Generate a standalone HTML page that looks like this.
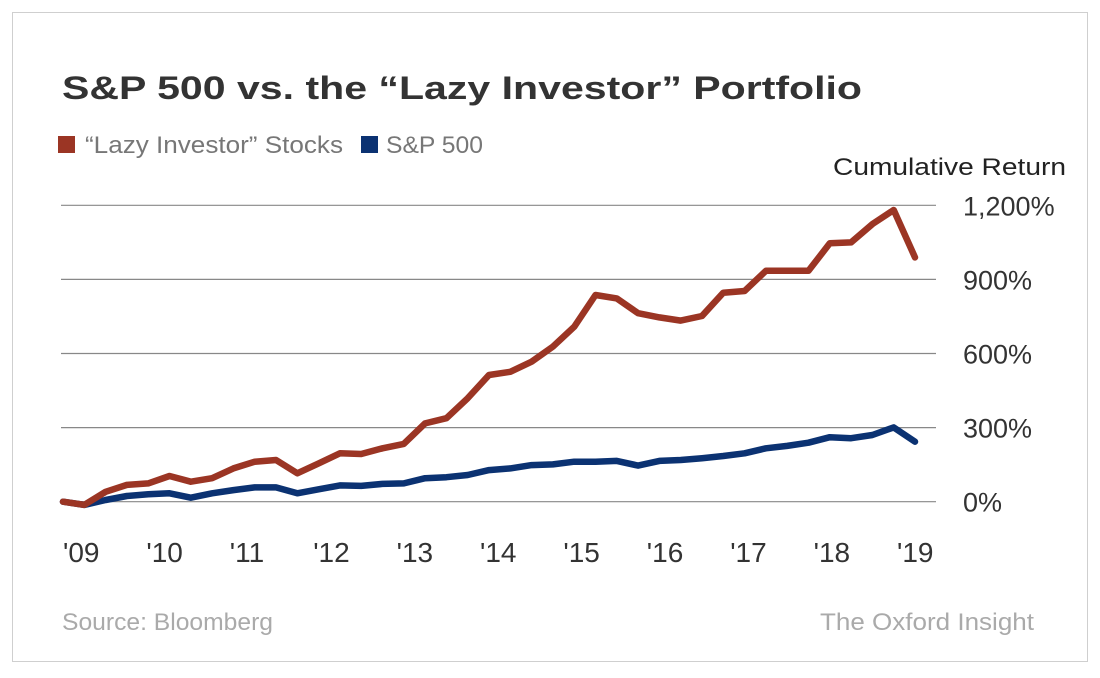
<!DOCTYPE html>
<html><head><meta charset="utf-8"><style>
html,body{margin:0;padding:0;background:#fff;}
svg{display:block;font-family:"Liberation Sans",Arial,sans-serif;}
</style></head><body>
<svg id="chart" width="1100" height="678" viewBox="0 0 1100 678">
<rect x="12.5" y="12.5" width="1075" height="649" fill="#fff" stroke="#cfcfcf" stroke-width="1"/>
<text x="62" y="99" font-size="32" font-weight="bold" fill="#333" textLength="800" lengthAdjust="spacingAndGlyphs">S&amp;P 500 vs. the “Lazy Investor” Portfolio</text>
<rect x="58" y="136" width="17" height="17" fill="#9b3524"/>
<text x="85" y="153" font-size="24" fill="#777" textLength="258" lengthAdjust="spacingAndGlyphs">“Lazy Investor” Stocks</text>
<rect x="361" y="136" width="17" height="17" fill="#0b3272"/>
<text x="386" y="153" font-size="24" fill="#777" textLength="97" lengthAdjust="spacingAndGlyphs">S&amp;P 500</text>
<text x="1066" y="175" font-size="24" fill="#222" text-anchor="end" textLength="233" lengthAdjust="spacingAndGlyphs">Cumulative Return</text>
<g id="grid"></g>
<g id="ylabels"></g>
<g id="xlabels"></g>
<g id="series"></g>
<text x="62" y="630" font-size="24" fill="#aaa" textLength="211" lengthAdjust="spacingAndGlyphs">Source: Bloomberg</text>
<text x="1034" y="630" font-size="24" fill="#aaa" text-anchor="end" textLength="214" lengthAdjust="spacingAndGlyphs">The Oxford Insight</text>
</svg>
<script>
const yTicks = [0, 300, 600, 900, 1200];
const yTickLabels = ["0%", "300%", "600%", "900%", "1,200%"];
const xYears = ["'09","'10","'11","'12","'13","'14","'15","'16","'17","'18","'19"];
const lazyValues = [0,-13,40,68,74,104,81,95,135,162,169,115,155,196,193,216,234,317,338,419,513,526,567,628,708,837,823,763,746,733,752,846,853,935,935,935,1046,1050,1124,1181,989];
const spValues = [0,-13,7,23,30,34,16,34,47,58,58,34,50,66,64,72,74,95,99,108,128,135,148,151,162,162,165,146,165,169,176,185,196,216,226,239,261,257,270,301,243];

const NS = "http://www.w3.org/2000/svg";
const x0 = 63, x1 = 915, y0 = 501.7, pxPer = 74.1/300;
const nPts = lazyValues.length;
function xScale(i){ return x0 + (x1 - x0) * i / (nPts - 1); }
function yearX(k){ return x0 + (897 - x0) * k / (xYears.length - 1); }
function yScale(v){ return y0 - v * pxPer; }
function mk(tag, attrs){ const e = document.createElementNS(NS, tag); for (const k in attrs) e.setAttribute(k, attrs[k]); return e; }

const grid = document.getElementById('grid');
const yl = document.getElementById('ylabels');
yTicks.forEach((t, i) => {
  const y = yScale(t);
  const ln = mk('line', {x1: 61, x2: 936, y1: y, y2: y, stroke: '#888', 'stroke-width': 1.2});
  
  
  grid.appendChild(ln);
  const tx = mk('text', {x: 963, y: y + 10, 'font-size': 27, fill: '#333'});
  tx.textContent = yTickLabels[i];
  
  
  yl.appendChild(tx);
});

const xl = document.getElementById('xlabels');
xYears.forEach((lab, k) => {
  const tx = mk('text', {x: yearX(k), y: 562, 'font-size': 28, fill: '#333'});
  tx.textContent = lab;
  
  
  xl.appendChild(tx);
});

const series = document.getElementById('series');
function drawLine(vals, color, name){
  const d = vals.map((v, i) => (i ? 'L' : 'M') + xScale(i).toFixed(1) + ',' + yScale(v).toFixed(1)).join(' ');
  const p = mk('path', {d: d, fill: 'none', stroke: color, 'stroke-width': 6.5, 'stroke-linejoin': 'round', 'stroke-linecap': 'round'});
  
  
  series.appendChild(p);
}
drawLine(spValues, '#0b3272', 'sp500-line');
drawLine(lazyValues, '#9b3524', 'lazy-investor-line');
</script>
</body></html>
